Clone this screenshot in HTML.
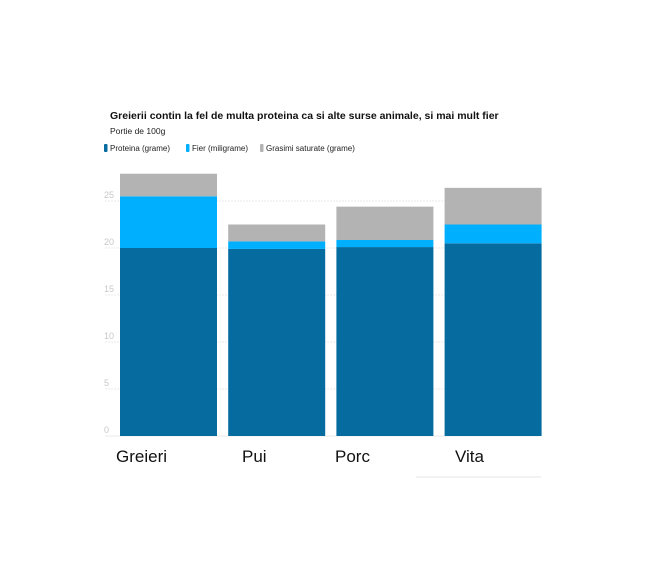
<!DOCTYPE html>
<html><head><meta charset="utf-8"><style>
body{margin:0;background:#fff;width:653px;height:580px;overflow:hidden;font-family:"Liberation Sans",sans-serif}
</style></head><body>
<svg width="653" height="580" xmlns="http://www.w3.org/2000/svg">
<text x="110" y="119" font-size="10.5" font-weight="bold" fill="#111">Greierii contin la fel de multa proteina ca si alte surse animale, si mai mult fier</text>
<text x="110" y="134" font-size="8.5" fill="#222">Portie de 100g</text>
<g id="legend"></g>
<g id="grid"></g>
<g id="bars"></g>
<g id="xl"></g>
<line x1="416" y1="477" x2="541" y2="477" stroke="#e6e6e6" stroke-width="1"/>
</svg>
<script>
const categories=["Greieri","Pui","Porc","Vita"];
const protein=[20.0,19.9,20.1,20.5];
const iron=[5.5,0.8,0.75,2.0];
const fat=[2.4,1.8,3.55,3.9];
const ticks=[0,5,10,15,20,25];
const seriesNames=["Proteina (grame)","Fier (miligrame)","Grasimi saturate (grame)"];
const colors=["#066c9f","#00b0ff","#b3b3b3"];
const NS="http://www.w3.org/2000/svg";
const y0=436,ppu=9.4;
const y=v=>y0-v*ppu;
const bx=i=>120+i*108.2,bw=97;
function mk(t,a,p){const e=document.createElementNS(NS,t);for(const k in a)e.setAttribute(k,a[k]);p.appendChild(e);return e;}
const grid=document.getElementById('grid');
ticks.forEach(t=>{
  const l=mk('line',{x1:105,x2:541,y1:y(t),y2:y(t),stroke:'#e8e8e8','stroke-width':1,'stroke-dasharray':t===0?'':'2,1'},grid);
  
  
  const tx=mk('text',{x:104,y:y(t)-3,'font-size':9,fill:'#c8c8c8'},grid);
  tx.textContent=t;
  
  
});
const bars=document.getElementById('bars');
categories.forEach((c,i)=>{
  const segs=[protein[i],iron[i],fat[i]];let base=0;
  segs.forEach((v,s)=>{
    const r=mk('rect',{x:bx(i),y:y(base+v),width:bw,height:v*ppu,fill:colors[s]},bars);
    
    
    base+=v;
  });
  const t=mk('text',{x:[116,242,335,455][i],y:462,'font-size':17,fill:'#111'},document.getElementById('xl'));
  t.textContent=c;
  
  
});
const lg=document.getElementById('legend');
const lx=[110,192,266];
seriesNames.forEach((n,i)=>{
  const r=mk('rect',{x:lx[i]-6,y:144,width:3.5,height:8,rx:1,fill:colors[i]},lg);
  
  
  const t=mk('text',{x:lx[i],y:151,'font-size':8,fill:'#222'},lg);
  t.textContent=n;
  
  
});
</script>
</body></html>
